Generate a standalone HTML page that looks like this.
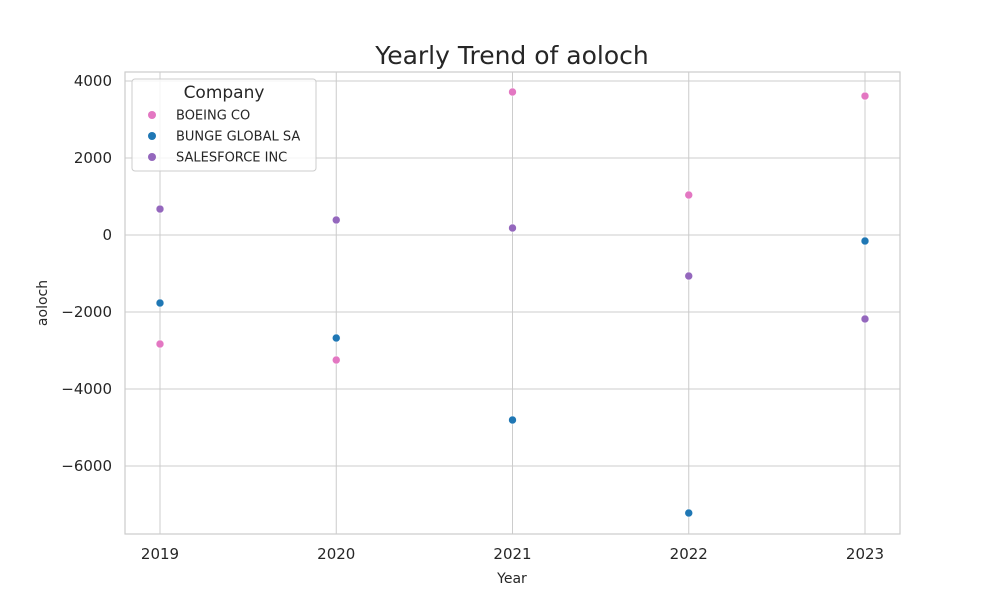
<!DOCTYPE html>
<html><head><meta charset="utf-8"><style>
body{margin:0;background:#fff;font-family:"Liberation Sans","DejaVu Sans",sans-serif}
</style></head><body>
<svg id="chart" width="1000" height="600" xmlns="http://www.w3.org/2000/svg">
<text x="512" y="64" text-anchor="middle" font-size="25" fill="#262626" font-family="DejaVu Sans, sans-serif">Yearly Trend of aoloch</text>
<g id="grid"></g>
<rect x="125" y="72" width="775" height="462" fill="none" stroke="#cccccc" stroke-width="1.2"/>
<g id="ticks" font-family="DejaVu Sans, sans-serif" font-size="15" fill="#262626"></g>
<g id="points"></g>
<text x="512" y="583" text-anchor="middle" font-size="14" fill="#262626" font-family="DejaVu Sans, sans-serif">Year</text>
<text transform="translate(47,303) rotate(-90)" text-anchor="middle" font-size="14" fill="#262626" font-family="DejaVu Sans, sans-serif">aoloch</text>
<g font-family="DejaVu Sans, sans-serif">
<rect x="132" y="79" width="184" height="92" rx="3" fill="#fff" fill-opacity="0.8" stroke="#cccccc"/>
<text x="224" y="98" text-anchor="middle" font-size="17" fill="#262626">Company</text>
<g id="legend-items"></g>
</g>
</svg>
<script>
const years = [2019, 2020, 2021, 2022, 2023];
const companies = ["BOEING CO", "BUNGE GLOBAL SA", "SALESFORCE INC"];
const colors = ["#e377c2", "#1f77b4", "#9467bd"];
const boeing = [-2831, -3247, 3714, 1039, 3610];
const bunge = [-1766, -2675, -4805, -7221, -156];
const salesforce = [675, 390, 182, -1065, -2182];
const yTicks = [-6000, -4000, -2000, 0, 2000, 4000];
const yTickLabels = ["\u22126000", "\u22124000", "\u22122000", "0", "2000", "4000"];
const series = [boeing, bunge, salesforce];

const NS = "http://www.w3.org/2000/svg";
const x = v => 160 + (v - 2019) * 176.25;
const y = v => 235 - v * 0.0385;
function mk(tag, attrs, parent){const e=document.createElementNS(NS,tag);for(const k in attrs)e.setAttribute(k,attrs[k]);parent.appendChild(e);return e;}
const grid=document.getElementById('grid'), ticks=document.getElementById('ticks'), pts=document.getElementById('points'), leg=document.getElementById('legend-items');
yTicks.forEach((t,i)=>{
  const l=mk('line',{x1:125,x2:900,y1:y(t),y2:y(t),stroke:'#cccccc','stroke-width':1},grid);
  
  
  const tx=mk('text',{x:112,y:y(t)+5,'text-anchor':'end'},ticks);
  tx.textContent=yTickLabels[i];
  
  
});
years.forEach(yr=>{
  const l=mk('line',{x1:x(yr),x2:x(yr),y1:72,y2:534,stroke:'#cccccc','stroke-width':1},grid);
  
  
  const tx=mk('text',{x:x(yr),y:559,'text-anchor':'middle'},ticks);
  tx.textContent=yr;
  
  
});
series.forEach((s,si)=>{
  s.forEach((v,i)=>{
    const c=mk('circle',{cx:x(years[i]),cy:y(v),r:4,fill:colors[si],stroke:'#fff','stroke-width':0.6},pts);
    
    
  });
  const ly=115+si*21;
  const c=mk('circle',{cx:152,cy:ly,r:4,fill:colors[si]},leg);
  
  
  const t=mk('text',{x:176,y:ly+4.5,'font-size':13,fill:'#262626'},leg);
  t.textContent=companies[si];
  
  
});
</script>
</body></html>
